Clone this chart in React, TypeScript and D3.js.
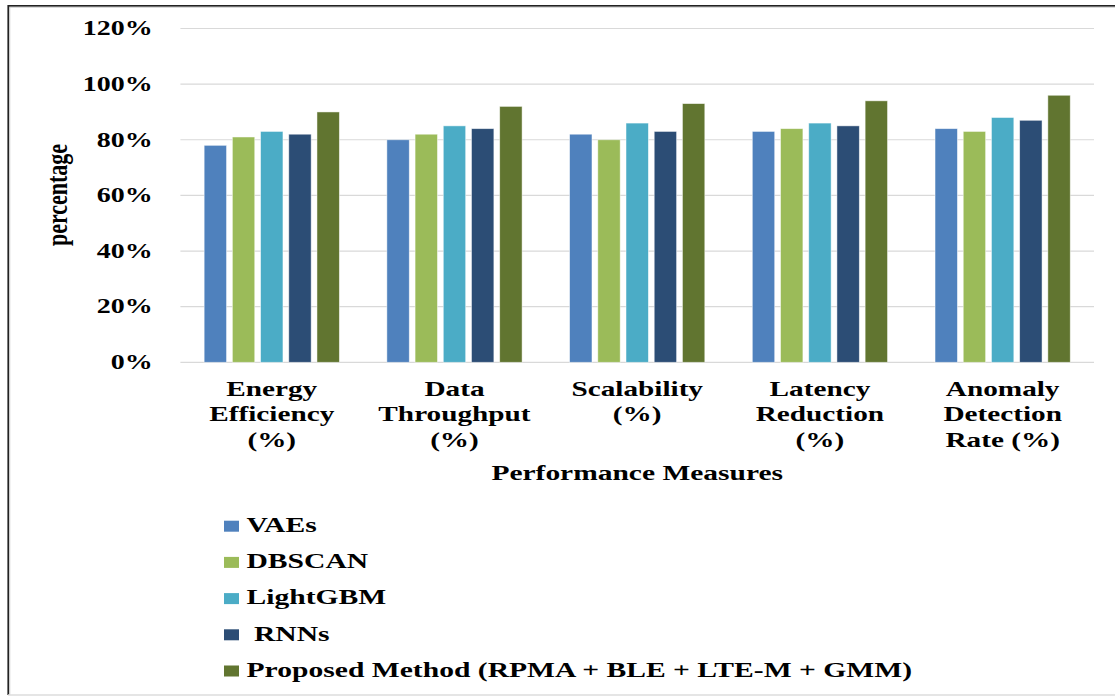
import React from "react";
import * as d3 from "d3";

const categories: string[][] = [
  ["Energy", "Efficiency", "(%)"],
  ["Data", "Throughput", "(%)"],
  ["Scalability", "(%)"],
  ["Latency", "Reduction", "(%)"],
  ["Anomaly", "Detection", "Rate (%)"],
];
const categoryKeys = ["Energy Efficiency", "Data Throughput", "Scalability", "Latency Reduction", "Anomaly Detection Rate"];

const seriesNames = ["VAEs", "DBSCAN", "LightGBM", " RNNs", "Proposed Method (RPMA + BLE + LTE-M + GMM)"];
const seriesColors = ["#4F81BD", "#9BBB59", "#4BACC6", "#2C4D75", "#617530"];

const vaes = [0.78, 0.80, 0.82, 0.83, 0.84];
const dbscan = [0.81, 0.82, 0.80, 0.84, 0.83];
const lightgbm = [0.83, 0.85, 0.86, 0.86, 0.88];
const rnns = [0.82, 0.84, 0.83, 0.85, 0.87];
const proposed = [0.90, 0.92, 0.93, 0.94, 0.96];
const seriesValues = [vaes, dbscan, lightgbm, rnns, proposed];

const yTicks = [0, 0.2, 0.4, 0.6, 0.8, 1.0, 1.2];

const FONT = "'Liberation Serif', 'Times New Roman', serif";
const SX = 1.38;

function SText({ x, y, size, anchor = "start", children, sx = SX, rotate = 0 }: any) {
  return (
    <text
      transform={`translate(${x},${y}) scale(${sx},1)${rotate ? ` rotate(${rotate})` : ""}`}
      fontFamily={FONT}
      fontWeight="bold"
      fontSize={size}
      textAnchor={anchor}
      fill="#000"
      style={{ whiteSpace: "pre" }}
    >
      {children}
    </text>
  );
}

export default function App() {
  const W = 1115, H = 696;
  const left = 180.4, right = 1094, top = 28.5, bottom = 362.3;

  const x0 = d3.scaleBand<string>().domain(categoryKeys).range([left, right]).paddingInner(0).paddingOuter(0);
  const x1 = d3.scaleBand<string>().domain(seriesNames).range([0, x0.bandwidth()]).paddingInner(0.206).paddingOuter(0.842);
  const y = d3.scaleLinear().domain([0, 1.2]).range([bottom, top]);
  const fmt = d3.format(".0%");

  return (
    <svg width={W} height={H} style={{ position: "absolute", left: 0, top: 0, background: "#fff" }}>
      {/* frame */}
      <line x1={8.5} x2={W} y1={5.8} y2={5.8} stroke="#222" strokeWidth={1.8} />
      <line x1={8.5} x2={W} y1={7.2} y2={7.2} stroke="#bbb" strokeWidth={0.8} />
      <line x1={8.3} x2={8.3} y1={5} y2={695} stroke="#222" strokeWidth={1.8} />
      <line x1={9.8} x2={9.8} y1={7} y2={695} stroke="#ccc" strokeWidth={0.8} />
      <line x1={8} x2={W} y1={695} y2={695} stroke="#ddd" strokeWidth={1.5} />

      {/* gridlines */}
      {yTicks.map((t) => (
        <line key={t} x1={left} x2={right} y1={y(t)} y2={y(t)} stroke="#d9d9d9" strokeWidth={1.2} />
      ))}

      {/* y tick labels */}
      {yTicks.map((t) => (
        <SText key={t} x={152.7} y={y(t) + 6.8} size={20} anchor="end" sx={1.4}>
          {fmt(t)}
        </SText>
      ))}

      {/* y axis title */}
      <SText x={67} y={195} size={22} anchor="middle" rotate={-90}>
        percentage
      </SText>

      {/* bars */}
      {categoryKeys.map((c, ci) => (
        <g key={c} transform={`translate(${x0(c)},0)`}>
          {seriesNames.map((s, si) => {
            const v = seriesValues[si][ci];
            return (
              <rect
                key={s}
                x={x1(s)}
                y={y(v)}
                width={x1.bandwidth()}
                height={y(0) - y(v)}
                fill={seriesColors[si]}
                stroke="#ffffff"
                strokeOpacity={0.6}
                strokeWidth={0.8}
              />
            );
          })}
        </g>
      ))}

      {/* category labels */}
      {categoryKeys.map((c, ci) => {
        const cx = (x0(c) as number) + x0.bandwidth() / 2;
        return categories[ci].map((line, li) => (
          <SText key={c + li} x={cx} y={395.5 + li * 25.8} size={21.5} anchor="middle" sx={1.36}>
            {line}
          </SText>
        ));
      })}

      {/* x axis title */}
      <SText x={(left + right) / 2} y={480} size={22} anchor="middle" sx={1.34}>
        Performance Measures
      </SText>

      {/* legend */}
      {seriesNames.map((s, i) => {
        const by = 532 + i * 36.2;
        return (
          <g key={s}>
            <rect x={224} y={by - 11.3} width={15} height={11} fill={seriesColors[i]} />
            <SText x={246.5} y={by} size={21} anchor="start" sx={1.41}>
              {s}
            </SText>
          </g>
        );
      })}
    </svg>
  );
}
